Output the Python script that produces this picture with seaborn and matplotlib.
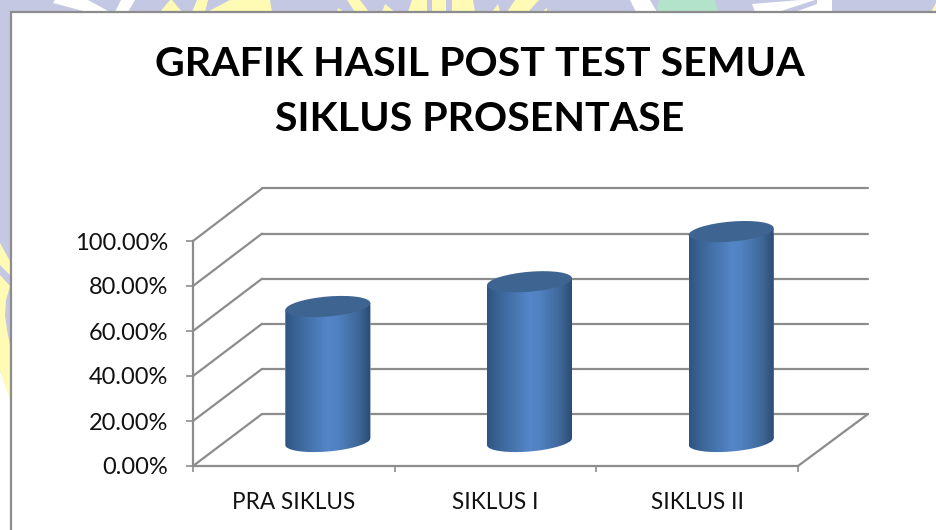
import numpy as np
import matplotlib
matplotlib.use("Agg")
import matplotlib.pyplot as plt
import seaborn as sns
from matplotlib.colors import LinearSegmentedColormap
from matplotlib.lines import Line2D
from matplotlib.patches import PathPatch, Polygon, Rectangle, Ellipse
from matplotlib.path import Path
from matplotlib.transforms import Affine2D, IdentityTransform

# data
categories = ["PRA SIKLUS", "SIKLUS I", "SIKLUS II"]
values = [60.0, 71.0, 93.3]
y_ticks = [0, 20, 40, 60, 80, 100]
title_text = "GRAFIK HASIL POST TEST SEMUA\nSIKLUS PROSENTASE"

W, H = 936, 530
GRAY = "#8c8c8c"

sns.set_style("white")
plt.rcParams["font.family"] = ["Lato", "DejaVu Sans"]


def px_rect(x0, x1, y_top, y_bot):
    return [x0 / W, 1 - y_bot / H, (x1 - x0) / W, (y_bot - y_top) / H]


fig = plt.figure(figsize=(W / 100, H / 100), dpi=100)
fig.patch.set_facecolor("#c5c8e2")

# slide background behind the chart
bg = fig.add_axes([0, 0, 1, 1], zorder=0)
bg.set_xlim(0, W)
bg.set_ylim(H, 0)
bg.axis("off")
white_bits = [
    [(55, 0), (88, 0), (110, 12), (87, 12), (53, 3)],
    [(121, 0), (135, 0), (128, 12), (115, 12)],
    [(630, 0), (650, 0), (657, 12), (636, 12)],
    [(752, 4), (800, 0), (815, 0), (778, 12), (755, 12)],
    [(817, 4), (817, 0), (832, 0), (832, 12), (795, 12)],
    [(0, 370), (12, 402), (12, 530), (0, 530)],
]
yellow_bits = [
    [(170, 0), (172, 0), (182, 12), (160, 12)],
    [(197, 0), (208, 0), (205, 12), (192, 12)],
    [(230, 0), (270, 0), (272, 12), (207, 12)],
    [(338, 8), (344, 12), (337, 12)],
    [(347, 0), (360, 0), (369, 12), (355, 12)],
    [(385, 4), (395, 12), (382, 12)],
    [(412, 0), (427, 0), (427, 12), (408, 12)],
    [(432, 0), (446, 0), (446, 12), (432, 12)],
    [(452, 0), (473, 0), (475, 12), (452, 12)],
    [(498, 4), (500, 12), (492, 12)],
    [(515, 0), (539, 0), (528, 12), (507, 12)],
    [(547, 8), (547, 12), (542, 12)],
    [(931, 12), (936, 3), (936, 12)],
    [(0, 243), (10, 261), (10, 275), (0, 265)],
    [(0, 275), (10, 286), (6, 300), (5, 315), (7, 330), (10, 345), (10, 400), (0, 370)],
]
for pts in white_bits:
    bg.add_patch(Polygon(pts, fc="white", ec="none"))
for pts in yellow_bits:
    bg.add_patch(Polygon(pts, fc="#fffab4", ec="none"))
bg.add_patch(Ellipse((687, 12), 60, 60, fc="#b3e4cb", ec="none"))
bg.add_patch(Rectangle((10.5, 11.5), W, H, fc="white", ec=GRAY, lw=1.6))

# back wall: same size as the front plane, shifted up and to the right
ax_back = fig.add_axes(px_rect(262, 868, 188.5, 414), zorder=1)
ax_back.set_xlim(-0.5, 2.5)
ax_back.set_ylim(0, 100)
ax_back.set_xticks([])
ax_back.set_yticks(y_ticks)
ax_back.set_yticklabels([])
ax_back.tick_params(length=0)
ax_back.patch.set_alpha(0)
ax_back.grid(axis="y", color=GRAY, lw=1.6)
for gl in ax_back.get_ygridlines():
    gl.set_clip_on(False)
sns.despine(ax=ax_back, left=True, bottom=True)

# front plane carries the axis and the labels
ax = fig.add_axes(px_rect(193, 798, 241, 466), zorder=2)
ax.patch.set_alpha(0)
ax.set_xlim(-0.5, 2.5)
ax.set_ylim(0, 100)
ax.set_yticks(y_ticks)
ax.set_yticklabels([f"{v:.2f}%" for v in y_ticks], fontsize=17, color="#111111")
ax.set_xticks([-0.5, 0.5, 1.5, 2.5])
ax.set_xticklabels([])
ax.set_xticks([0, 1, 2], minor=True)
ax.set_xticklabels(categories, minor=True, fontsize=16.3, color="#111111")
ax.tick_params(axis="y", left=True, length=5, width=1.2, color=GRAY, pad=13)
ax.tick_params(axis="x", which="major", bottom=True, length=4, width=1.2, color=GRAY)
ax.tick_params(axis="x", which="minor", bottom=False, length=0, pad=18.5)
sns.despine(ax=ax)
for side in ["left", "bottom"]:
    ax.spines[side].set_color(GRAY)
    ax.spines[side].set_linewidth(1.6)

# side wall and floor lines join the two planes
fig.canvas.draw()
for v in y_ticks:
    p0 = ax.transData.transform((-0.5, v))
    p1 = ax_back.transData.transform((-0.5, v))
    fig.add_artist(Line2D([p0[0], p1[0]], [p0[1], p1[1]], color=GRAY, lw=1.6,
                          transform=IdentityTransform()))
p0 = ax.transData.transform((2.5, 0))
p1 = ax_back.transData.transform((2.5, 0))
fig.add_artist(Line2D([p0[0], p1[0]], [p0[1], p1[1]], color=GRAY, lw=1.6,
                      transform=IdentityTransform()))

# cylinders stand half way into the floor
ax_bars = fig.add_axes(px_rect(227, 832, 216.5, 441.5), zorder=3)
ax_bars.patch.set_alpha(0)
sns.barplot(x=categories, y=values, ax=ax_bars, width=0.4215, color="#4f81bd", saturation=1)
ax_bars.set_xlim(-0.5, 2.5)
ax_bars.set_ylim(0, 100)
ax_bars.axis("off")

side_cmap = LinearSegmentedColormap.from_list(
    "cyl", [(0, "#2e5583"), (0.15, "#3c6699"), (0.5, "#5486c8"), (0.6, "#5183c3"),
            (0.85, "#3f6899"), (1, "#2b4a72")])
gradient = np.linspace(0, 1, 256).reshape(1, -1)
t_low = np.linspace(0, -np.pi, 60)
SKEW = 7.0 / 86.0
MINOR = 10.0

for bar in list(ax_bars.patches):
    x0, w, h = bar.get_x(), bar.get_width(), bar.get_height()
    (lx, by) = ax_bars.transData.transform((x0, 0))
    (rx, ty) = ax_bars.transData.transform((x0 + w, h))
    a = (rx - lx) / 2
    cx = (rx + lx) / 2
    # outline: top edge plus the lower half of the base ellipse
    low = np.column_stack([cx + a * np.cos(t_low),
                           by + MINOR * np.sin(t_low) + SKEW * a * np.cos(t_low)])
    outline = np.vstack([[lx, ty - SKEW * a], [rx, ty + SKEW * a], low, [lx, ty - SKEW * a]])
    body = Path(outline)
    bar.set_clip_path(body, IdentityTransform())
    im = ax_bars.imshow(gradient, cmap=side_cmap, aspect="auto",
                        extent=[x0, x0 + w, -12, h + 5], zorder=3)
    im.set_clip_box(fig.bbox)
    im.set_clip_path(body, IdentityTransform())
    cap = Affine2D.from_values(a, SKEW * a, 0, MINOR, cx, ty)
    ax_bars.add_patch(PathPatch(Path.unit_circle(), transform=cap, fc="#3e6591",
                                ec="none", zorder=4, clip_on=False))
ax_bars.set_xlim(-0.5, 2.5)
ax_bars.set_ylim(0, 100)

fig.suptitle(title_text, x=480 / W, y=1 - 92 / H, ha="center", va="center",
             fontsize=29.6, fontweight="bold", color="black", linespacing=1.62)

fig.savefig("out.png", dpi=100)
